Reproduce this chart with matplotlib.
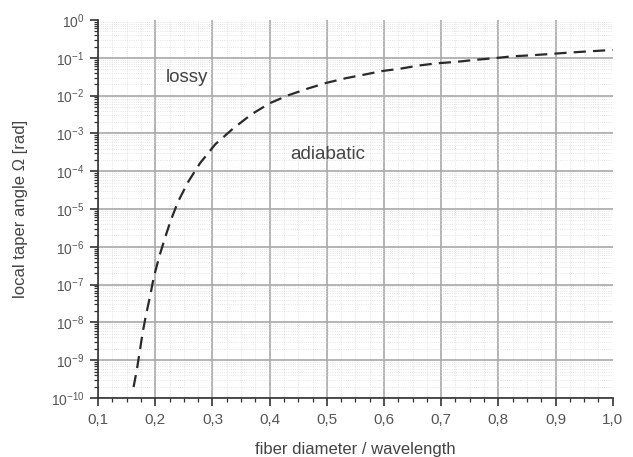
import numpy as np
import matplotlib
matplotlib.use('Agg')
import matplotlib.pyplot as plt
from matplotlib.ticker import FixedLocator, MultipleLocator, LogLocator, FuncFormatter, NullFormatter

# values
diameter = [0.162, 0.168, 0.173, 0.178, 0.184, 0.191, 0.197, 0.207, 0.217, 0.227,
            0.240, 0.258, 0.278, 0.305, 0.336, 0.368, 0.400, 0.432, 0.467, 0.500,
            0.533, 0.565, 0.597, 0.629, 0.661, 0.693, 0.728, 0.760, 0.792, 0.824,
            0.856, 0.888, 0.923, 0.955, 0.987, 1.0]
angle = [1.95e-10, 5.9e-10, 1.8e-9, 5.5e-9, 1.66e-8, 5.0e-8, 1.5e-7, 5.6e-7, 1.74e-6, 5.0e-6,
         1.6e-5, 5.4e-5, 1.62e-4, 5.2e-4, 1.35e-3, 3.2e-3, 6.3e-3, 1.02e-2, 1.55e-2, 2.2e-2,
         2.9e-2, 3.6e-2, 4.5e-2, 5.2e-2, 6.3e-2, 7.2e-2, 7.9e-2, 8.9e-2, 9.8e-2, 0.110,
         0.117, 0.126, 0.138, 0.148, 0.158, 0.162]
x_ticks = [0.1, 0.2, 0.3, 0.4, 0.5, 0.6, 0.7, 0.8, 0.9, 1.0]
regions = ['lossy', 'adiabatic']

plt.rcParams['font.family'] = ['Liberation Sans', 'DejaVu Sans']
plt.rcParams['mathtext.fontset'] = 'custom'
plt.rcParams['mathtext.rm'] = 'Liberation Sans'
plt.rcParams['mathtext.it'] = 'Liberation Sans:italic'
plt.rcParams['mathtext.default'] = 'regular'

fig = plt.figure(figsize=(6.33, 4.57), dpi=100)
ax = fig.add_axes([0.155, 0.129, 0.813, 0.827])

ax.plot(diameter, angle, color='#2a2a2a', lw=1.6, linestyle=(0, (5.5, 3.2)), zorder=3)

ax.set_yscale('log')
ax.set_xlim(0.1, 1.0)
ax.set_ylim(1e-10, 1)

ax.xaxis.set_major_locator(FixedLocator(x_ticks))
ax.xaxis.set_minor_locator(MultipleLocator(0.025))
ax.xaxis.set_major_formatter(FuncFormatter(lambda v, p: f'{v:.1f}'.replace('.', ',')))
ax.yaxis.set_major_locator(LogLocator(base=10, numticks=20))
ax.yaxis.set_minor_locator(LogLocator(base=10, subs=np.arange(2, 10), numticks=20))
ax.yaxis.set_minor_formatter(NullFormatter())
ax.yaxis.set_major_formatter(FuncFormatter(lambda v, p: f'$10^{{{int(round(np.log10(v)))}}}$'))

ax.grid(which='major', color='#a8a8a8', lw=1.2)
ax.grid(which='minor', color='#dcdcdc', lw=0.6, linestyle=':')
ax.set_axisbelow(True)

# the reference has no grid lines on the top and right edges
fig.canvas.draw()
for line, loc in zip(ax.get_ygridlines(), ax.yaxis.get_majorticklocs()):
    if loc >= 1:
        line.set_visible(False)
for line, loc in zip(ax.get_xgridlines(), ax.xaxis.get_majorticklocs()):
    if loc >= 1.0:
        line.set_visible(False)

for s in ['top', 'right']:
    ax.spines[s].set_visible(False)
for s in ['left', 'bottom']:
    ax.spines[s].set_color('#333333')
    ax.spines[s].set_linewidth(1.2)

ax.tick_params(which='major', direction='out', length=6, width=1.2, color='#333333',
               labelcolor='#555555', pad=4)
ax.tick_params(which='minor', direction='out', length=3, width=0.9, color='#333333')
ax.tick_params(axis='x', which='major', pad=5, labelsize=11)
ax.tick_params(axis='y', which='major', labelsize=10)

ax.set_xlabel('fiber diameter / wavelength', fontsize=12, color='#444444')
ax.set_ylabel('local taper angle Ω [rad]', fontsize=12, color='#444444')
ax.xaxis.label.set_va('center')
ax.xaxis.set_label_coords(0.5, -0.135)
ax.yaxis.label.set_va('center')
ax.yaxis.set_label_coords(-0.151, 0.5)

ax.text(0.255, 3.1e-2, regions[0], fontsize=13.5, color='#444444', ha='center', va='center')
ax.text(0.502, 2.8e-4, regions[1], fontsize=13.5, color='#444444', ha='center', va='center')

fig.savefig('out.png', dpi=100)
